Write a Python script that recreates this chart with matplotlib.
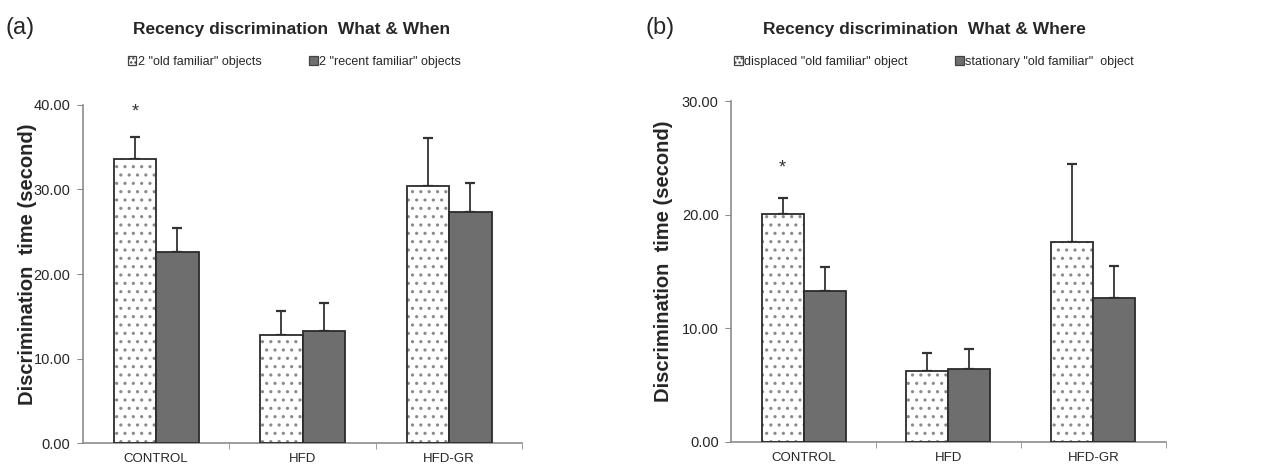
import numpy as np
import matplotlib
matplotlib.use("Agg")
import matplotlib.pyplot as plt
from matplotlib.patches import Patch

plt.rcParams['font.family'] = ['Liberation Sans', 'DejaVu Sans']
plt.rcParams['hatch.linewidth'] = 1.1

groups = ["CONTROL", "HFD", "HFD-GR"]

# panel (a) What & When
a_labels = ['2 "old familiar" objects', '2 "recent familiar" objects']
a_old = [33.6, 12.8, 30.4]
a_old_err = [2.6, 2.8, 5.7]
a_recent = [22.6, 13.3, 27.3]
a_recent_err = [2.8, 3.3, 3.5]
a_star_y = 39.2

# panel (b) What & Where
b_labels = ['displaced "old familiar" object', 'stationary "old familiar"  object']
b_old = [20.1, 6.2, 17.6]
b_old_err = [1.4, 1.6, 6.9]
b_recent = [13.3, 6.4, 12.7]
b_recent_err = [2.1, 1.8, 2.8]
b_star_y = 24.1

edge = "#2b2b2b"
grey = "#6e6e6e"
axcol = "#8c8c8c"
txt = "#262626"


def panel(ax, old, old_err, recent, recent_err, star_y, ymax, step, lab_x, lab_y):
    x = np.arange(len(groups))
    w = 0.29
    # dotted bars: hatch drawn in grey first, outline on top
    ax.bar(x - w / 2, old, w, color="white", hatch="..", edgecolor="#8a8a8a", linewidth=0, zorder=2)
    ax.bar(x - w / 2, old, w, fill=False, edgecolor=edge, linewidth=1.3, zorder=3)
    ax.bar(x + w / 2, recent, w, color=grey, edgecolor=edge, linewidth=1.3, zorder=3)
    ax.errorbar(x - w / 2, old, yerr=[np.zeros(3), old_err], fmt="none", ecolor="#333333",
                elinewidth=1.3, capsize=3.5, capthick=1.6, zorder=1)
    ax.errorbar(x + w / 2, recent, yerr=[np.zeros(3), recent_err], fmt="none", ecolor="#333333",
                elinewidth=1.3, capsize=3.5, capthick=1.6, zorder=1)
    ax.text(x[0] - w / 2, star_y, "*", ha="center", va="center", fontsize=13, color="#333333")

    ax.set_xlim(-0.5, 2.5)
    ax.set_ylim(0, ymax)
    ticks = np.arange(0, ymax + 0.1, step)
    ax.set_yticks(ticks)
    ax.set_yticklabels(["%.2f" % v for v in ticks], fontsize=10.5, color=txt)
    ax.set_xticks(x)
    ax.set_xticklabels(groups, fontsize=9.5, color=txt)
    ax.set_xticks([0.5, 1.5, 2.5], minor=True)
    ax.tick_params(axis="x", which="major", length=0, pad=7)
    ax.tick_params(axis="x", which="minor", length=4, color=axcol, direction="out")
    ax.tick_params(axis="y", length=4, color=axcol, direction="out", pad=5)
    for s in ["top", "right"]:
        ax.spines[s].set_visible(False)
    for s in ["left", "bottom"]:
        ax.spines[s].set_color(axcol)
        ax.spines[s].set_linewidth(1.2)
    ax.set_ylabel("Discrimination  time (second)", fontsize=14.5, fontweight="bold", color=txt)
    ax.yaxis.set_label_coords(lab_x, lab_y)


fig = plt.figure(figsize=(12.74, 4.68), dpi=100)
ax1 = fig.add_axes([0.065, 0.053, 0.345, 0.723])
ax2 = fig.add_axes([0.574, 0.056, 0.341, 0.728])

panel(ax1, a_old, a_old_err, a_recent, a_recent_err, a_star_y, 40, 10, -0.105, 0.53)
panel(ax2, b_old, b_old_err, b_recent, b_recent_err, b_star_y, 30, 10, -0.135, 0.53)

fig.text(0.004, 0.94, "(a)", fontsize=17, va="center", color=txt)
fig.text(0.507, 0.94, "(b)", fontsize=17, va="center", color=txt)
fig.text(0.229, 0.938, "Recency discrimination  What & When", fontsize=12.5,
         fontweight="bold", ha="center", va="center", color=txt)
fig.text(0.726, 0.938, "Recency discrimination  What & Where", fontsize=12.5,
         fontweight="bold", ha="center", va="center", color=txt)

for lab, xpos in [(a_labels, 0.231), (b_labels, 0.733)]:
    handles = [Patch(facecolor="white", edgecolor="#444444", hatch="....", linewidth=0.9),
               Patch(facecolor=grey, edgecolor="#444444", linewidth=0.9)]
    leg = fig.legend(handles, lab, loc="center", bbox_to_anchor=(xpos, 0.868), ncol=2,
                     frameon=False, fontsize=9, handlelength=0.7, handleheight=0.7,
                     handletextpad=0.1, columnspacing=3.8)
    for t in leg.get_texts():
        t.set_color(txt)

fig.savefig("out.png", dpi=100)
